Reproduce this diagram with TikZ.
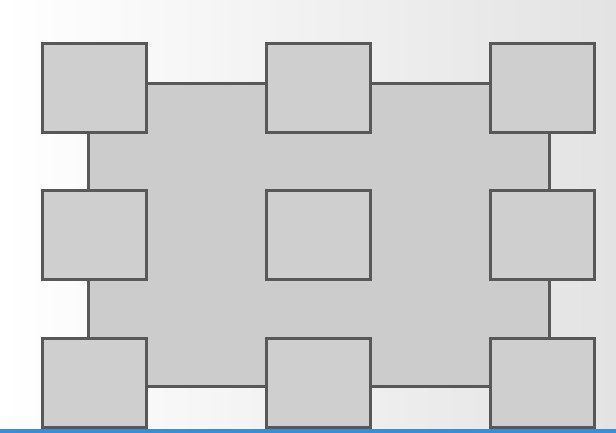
\documentclass[tikz,border=0pt]{standalone}
\usepackage{tikz}
\usetikzlibrary{positioning, calc}
\definecolor{edgegray}{RGB}{88, 88, 88}
\definecolor{panelgray}{RGB}{204, 204, 204}
\definecolor{boxgray}{RGB}{207, 207, 207}
\definecolor{barblue}{RGB}{58, 142, 214}

\begin{document}
\begin{tikzpicture}[x=1pt, y=-1pt,
        cell/.style={draw=edgegray, line width=3pt, fill=boxgray,
                     minimum width=104pt, minimum height=89pt, inner sep=0pt},
        link/.style={draw=edgegray, line width=3pt}
      ]
        % background
        \shade[left color=white, right color=gray!22] (0,0) rectangle (616,433);
        \useasboundingbox (0,0) rectangle (616,433);

        % panel behind the cells
        \fill[panelgray] (88,84) rectangle (549,386);
        \coordinate (top) at (0,84);
        \coordinate (bot) at (0,386);
        \coordinate (lft) at (88,0);
        \coordinate (rgt) at (549,0);

        \node[cell] (tl) at (94, 88.5) {};
        \node[cell] (tm) at (318, 88.5) {};
        \node[cell] (tr) at (542.5, 88.5) {};
        \node[cell] (ml) at (94, 235) {};
        \node[cell] (mm) at (318, 235) {};
        \node[cell] (mr) at (542.5, 235) {};
        \node[cell] (bl) at (94, 382.5) {};
        \node[cell] (bm) at (318, 382.5) {};
        \node[cell] (br) at (542.5, 382.5) {};

        % frame lines between cells
        \draw[link] (tl.east |- top) -- (tm.west |- top);
        \draw[link] (tm.east |- top) -- (tr.west |- top);
        \draw[link] (bl.east |- bot) -- (bm.west |- bot);
        \draw[link] (bm.east |- bot) -- (br.west |- bot);
        \draw[link] (lft |- tl.south) -- (lft |- ml.north);
        \draw[link] (lft |- ml.south) -- (lft |- bl.north);
        \draw[link] (rgt |- tr.south) -- (rgt |- mr.north);
        \draw[link] (rgt |- mr.south) -- (rgt |- br.north);

        % bottom bar
        \fill[barblue] (0,429) rectangle (616,433);
      \end{tikzpicture}
\end{document}
